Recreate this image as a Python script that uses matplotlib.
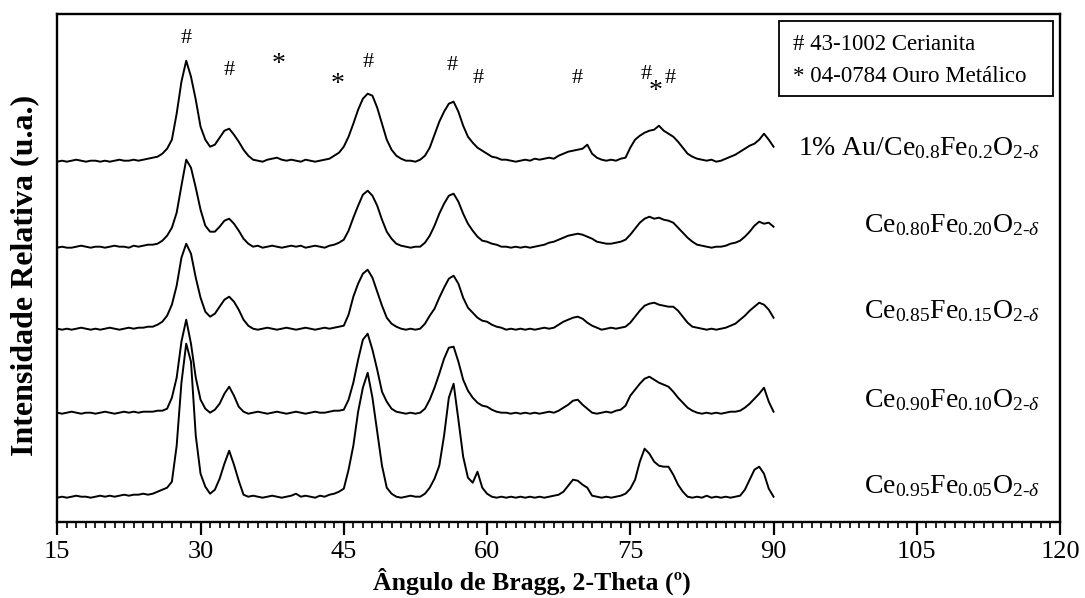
import numpy as np
import matplotlib
matplotlib.use("Agg")
import matplotlib.pyplot as plt
from matplotlib.patches import Rectangle

plt.rcParams["font.family"] = "serif"
plt.rcParams["font.serif"] = ["Liberation Serif", "DejaVu Serif"]
plt.rcParams["mathtext.fontset"] = "custom"
plt.rcParams["mathtext.rm"] = "Liberation Serif"
plt.rcParams["mathtext.it"] = "Liberation Serif:italic"
plt.rcParams["mathtext.bf"] = "Liberation Serif:bold"

# 2-theta grid (degrees), 0.5 deg steps from 15 to 90
two_theta = np.arange(15.0, 90.01, 0.5)

# intensities (arbitrary units, above each baseline)
au_ce08 = [
    0, 1, 0, 1, 2, 1, 0, 1, 1, 0,
    1, 0, 1, 2, 1, 1, 2, 1, 2, 3,
    4, 5, 8, 13, 22, 48, 80, 101, 85, 62,
    35, 22, 15, 17, 24, 31, 33, 27, 20, 12,
    6, 2, 1, 0, 2, 3, 4, 2, 1, 2,
    1, 0, 2, 1, 0, 1, 2, 3, 6, 9,
    15, 25, 38, 52, 63, 68, 66, 54, 38, 22,
    12, 6, 3, 1, 1, 0, 2, 6, 14, 27,
    40, 50, 58, 60, 50, 36, 25, 19, 14, 11,
    8, 5, 4, 2, 2, 1, 0, 1, 2, 1,
    3, 2, 3, 4, 3, 6, 8, 10, 11, 12,
    13, 17, 8, 4, 2, 1, 2, 1, 3, 4,
    14, 22, 26, 29, 31, 32, 36, 31, 28, 25,
    20, 14, 8, 5, 3, 2, 1, 2, 0, 1,
    3, 5, 7, 10, 13, 16, 18, 22, 28, 22,
    15,
]
ce080 = [
    0, 1, 0, 0, 1, 2, 1, 0, 1, 1,
    0, 1, 2, 1, 1, 0, 2, 1, 2, 3,
    3, 4, 7, 12, 20, 35, 62, 88, 80, 60,
    38, 22, 16, 16, 21, 27, 29, 24, 17, 9,
    4, 1, 2, 0, 1, 2, 1, 0, 1, 2,
    1, 2, 0, 1, 2, 1, 0, 2, 3, 5,
    8, 17, 30, 42, 53, 57, 52, 42, 28, 16,
    9, 4, 2, 1, 0, 1, 1, 5, 12, 22,
    34, 44, 52, 54, 46, 34, 24, 17, 11, 7,
    6, 4, 3, 1, 1, 0, 1, 0, 1, 0,
    1, 2, 3, 5, 6, 8, 10, 12, 13, 14,
    13, 11, 9, 6, 5, 4, 4, 5, 6, 8,
    13, 19, 25, 29, 31, 29, 30, 28, 27, 25,
    20, 15, 10, 6, 3, 2, 1, 0, 1, 1,
    2, 4, 5, 7, 11, 16, 22, 26, 24, 25,
    21,
]
ce085 = [
    1, 0, 1, 0, 1, 2, 1, 0, 1, 0,
    1, 2, 1, 0, 1, 2, 1, 2, 2, 3,
    3, 5, 8, 14, 25, 44, 72, 86, 76, 52,
    32, 18, 13, 16, 23, 30, 33, 28, 20, 10,
    4, 1, 0, 1, 2, 1, 0, 1, 2, 1,
    0, 1, 2, 1, 0, 1, 2, 1, 2, 3,
    4, 15, 33, 46, 56, 60, 52, 38, 24, 12,
    6, 3, 1, 0, 1, 0, 1, 6, 14, 21,
    32, 42, 51, 54, 46, 32, 22, 17, 12, 9,
    8, 5, 3, 2, 0, 1, 0, 1, 0, 1,
    0, 1, 2, 1, 2, 5, 8, 10, 12, 13,
    11, 7, 4, 2, 0, 1, 2, 1, 2, 3,
    7, 13, 19, 24, 26, 27, 25, 24, 23, 23,
    19, 13, 7, 3, 2, 1, 0, 1, 0, 1,
    2, 4, 6, 10, 14, 19, 23, 27, 25, 20,
    12,
]
ce090 = [
    1, 0, 1, 2, 1, 0, 1, 1, 0, 1,
    2, 1, 0, 1, 2, 1, 2, 1, 2, 2,
    2, 3, 3, 5, 16, 36, 72, 94, 70, 36,
    14, 5, 1, 4, 10, 20, 27, 18, 7, 2,
    0, 1, 2, 1, 0, 1, 2, 1, 0, 1,
    2, 1, 0, 1, 2, 1, 1, 2, 3, 3,
    4, 14, 31, 54, 74, 80, 64, 44, 22, 12,
    5, 2, 1, 0, 1, 0, 1, 5, 14, 26,
    40, 55, 66, 67, 52, 34, 23, 16, 11, 8,
    7, 4, 2, 1, 1, 0, 1, 0, 1, 0,
    1, 0, 1, 2, 1, 3, 6, 9, 13, 14,
    9, 5, 1, 0, 1, 2, 1, 3, 4, 8,
    18, 24, 30, 35, 37, 34, 31, 29, 27, 22,
    16, 11, 6, 3, 1, 0, 1, 0, 1, 0,
    1, 2, 2, 3, 6, 10, 15, 20, 26, 12,
    2,
]
ce095 = [
    0, 1, 0, 1, 2, 1, 1, 0, 1, 2,
    1, 2, 1, 2, 3, 2, 3, 3, 4, 3,
    4, 6, 8, 10, 16, 52, 115, 154, 136, 62,
    24, 11, 4, 8, 19, 34, 47, 33, 17, 3,
    1, 2, 1, 0, 1, 2, 1, 0, 1, 2,
    4, 1, 2, 1, 0, 2, 1, 3, 4, 6,
    9, 28, 52, 86, 110, 125, 100, 66, 32, 10,
    4, 1, 0, 1, 2, 1, 1, 4, 10, 19,
    32, 62, 100, 114, 78, 41, 20, 15, 26, 10,
    4, 1, 0, 1, 0, 1, 0, 1, 0, 1,
    0, 1, 0, 1, 2, 3, 6, 12, 18, 17,
    13, 10, 2, 1, 0, 1, 0, 1, 2, 4,
    9, 18, 36, 49, 44, 36, 32, 31, 31, 23,
    13, 6, 1, 0, 1, 0, 2, 0, 1, 0,
    1, 0, 1, 2, 8, 18, 28, 31, 24, 9,
    1,
]

series = [au_ce08, ce080, ce085, ce090, ce095]
offsets = [360, 274, 192, 108, 24]
label_y = [367, 290, 204, 115, 29]
labels = [
    r"1% Au/Ce$_{0.8}$Fe$_{0.2}$O$_{2\text{-}\delta}$",
    r"Ce$_{0.80}$Fe$_{0.20}$O$_{2\text{-}\delta}$",
    r"Ce$_{0.85}$Fe$_{0.15}$O$_{2\text{-}\delta}$",
    r"Ce$_{0.90}$Fe$_{0.10}$O$_{2\text{-}\delta}$",
    r"Ce$_{0.95}$Fe$_{0.05}$O$_{2\text{-}\delta}$",
]

# reflection markers (2-theta, height)
marker_pos = [28.5, 33.0, 38.2, 44.4, 47.6, 56.3, 59.1, 69.4, 76.7, 77.6, 79.2]
marker_y = [483, 451, 457, 437, 459, 456, 443, 443, 447, 430, 443]
marker_sym = ["#", "#", "*", "*", "#", "#", "#", "#", "#", "*", "#"]

fig = plt.figure(figsize=(10.85, 5.98), dpi=100)
ax = fig.add_axes([0.0528, 0.1276, 0.9242, 0.849])

for inten, off in zip(series, offsets):
    ax.plot(two_theta, np.array(inten) + off, color="black", lw=1.4)

for lab, yl in zip(labels, label_y):
    ax.text(117.9, yl, lab, ha="right", va="baseline", fontsize=20)

for xm, ym, s in zip(marker_pos, marker_y, marker_sym):
    fs = 16 if s == "#" else 20
    ax.text(xm, ym, s, ha="center", va="center", fontsize=fs)

# reference card box
ax.add_patch(Rectangle((0.720, 0.8385), 0.273, 0.1475, transform=ax.transAxes,
                       fill=False, edgecolor="black", lw=1.3))
ax.text(0.734, 0.929, "# 43-1002 Cerianita", transform=ax.transAxes,
        fontsize=16.5, va="baseline")
ax.text(0.734, 0.867, "* 04-0784 Ouro Metálico", transform=ax.transAxes,
        fontsize=16.5, va="baseline")

ax.set_xlim(15, 120)
ax.set_ylim(0, 507.7)
ax.set_xticks(np.arange(15, 121, 15))
ax.set_xticks(np.arange(15, 121, 1), minor=True)
ax.set_yticks([])
ax.tick_params(axis="x", which="major", direction="out", length=9, width=1.6,
               labelsize=19, pad=5)
ax.tick_params(axis="x", which="minor", direction="out", length=4, width=1.2)
for sp in ax.spines.values():
    sp.set_linewidth(1.7)

fig.text(0.490, 0.014, "Ângulo de Bragg, 2-Theta (º)", ha="center",
         va="baseline", fontsize=18.5, fontweight="bold")
fig.text(0.023, 0.54, "Intensidade Relativa (u.a.)", ha="center", va="center",
         rotation=90, fontsize=23, fontweight="bold")

plt.savefig("out.png", dpi=100)
